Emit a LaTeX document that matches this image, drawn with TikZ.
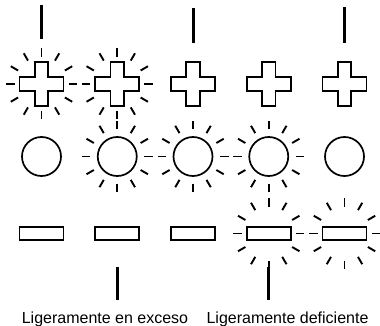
\documentclass[tikz,border=0pt]{standalone}
\usepackage{fontspec}
\setmainfont{Liberation Sans}
\usepackage{tikz}
\newcommand{\cruz}[1]{\draw[forma] (#1) ++(-6.75,-22) -- ++(13.5,0) -- ++(0,15.25) -- ++(15.25,0) -- ++(0,13.5) -- ++(-15.25,0) -- ++(0,15.25) -- ++(-13.5,0) -- ++(0,-15.25) -- ++(-15.25,0) -- ++(0,-13.5) -- ++(15.25,0) -- cycle;}
\newcommand{\brillo}[1]{\foreach \a in {0,30,...,330}{\draw[rayo] (#1) ++(\a:27) -- ++(\a:8.5);}}

\begin{document}
\begin{tikzpicture}[x=1pt,y=-1pt,
	forma/.style={line width=1.7pt,line join=miter},
	rayo/.style={line width=1.9pt},
	barra/.style={line width=3pt},
	texto/.style={anchor=base,font=\fontsize{16}{19}\selectfont}]
	%	\draw[help lines,step=20pt] (0,0) grid (380,326);
	\useasboundingbox (0,0) rectangle (380,326);
	
		\coordinate (a1) at (41.5,84);
		\coordinate (a2) at (117.25,84);
		\coordinate (a3) at (193,84);
		\coordinate (a4) at (268.75,84);
		\coordinate (a5) at (344.5,84);
		
		\coordinate (b1) at (41.5,156.5);
		\coordinate (b2) at (117.25,156.5);
		\coordinate (b3) at (193,156.5);
		\coordinate (b4) at (268.75,156.5);
		\coordinate (b5) at (344.5,156.5);
		
		\coordinate (c1) at (41.5,233.5);
		\coordinate (c2) at (117.25,233.5);
		\coordinate (c3) at (193,233.5);
		\coordinate (c4) at (268.75,233.5);
		\coordinate (c5) at (344.5,233.5);
		
		% cruces
		\cruz{a1} \cruz{a2} \cruz{a3} \cruz{a4} \cruz{a5}
		\brillo{a1} \brillo{a2}
		
		% circulos
		\draw[forma] (b1) circle (19.5);
		\draw[forma] (b2) circle (19.5);
		\draw[forma] (b3) circle (19.5);
		\draw[forma] (b4) circle (19.5);
		\draw[forma] (b5) circle (19.5);
		\brillo{b2} \brillo{b3} \brillo{b4}
		
		% rectangulos
		\draw[forma] (c1) ++(-22,-6.5) rectangle ++(44,13);
		\draw[forma] (c2) ++(-22,-6.5) rectangle ++(44,13);
		\draw[forma] (c3) ++(-22,-6.5) rectangle ++(44,13);
		\draw[forma] (c4) ++(-22,-6.5) rectangle ++(44,13);
		\draw[forma] (c5) ++(-22,-6.5) rectangle ++(44,13);
		\brillo{c4} \brillo{c5}
		
		% barras
		\draw[barra] (a1) ++(0,-79) -- ++(0,34);
		\draw[barra] (a3) ++(0,-76) -- ++(0,35);
		\draw[barra] (a5) ++(0,-77) -- ++(0,36);
		\draw[barra] (c2) ++(0,33.5) -- ++(0,33);
		\draw[barra] (c4) ++(0,33.5) -- ++(0,33);
		
	\node[texto] (exceso) at (105,323) {Ligeramente en exceso};
	\node[texto] (deficiente) at (287.5,323) {Ligeramente deficiente};
\end{tikzpicture}
\end{document}
